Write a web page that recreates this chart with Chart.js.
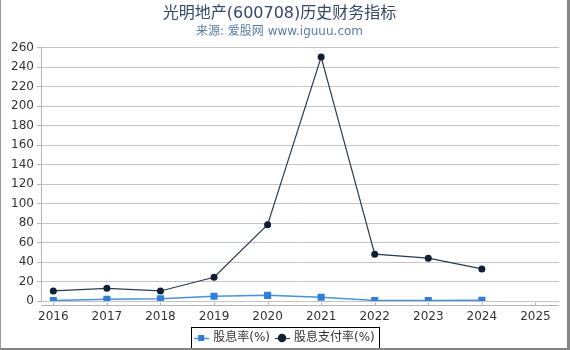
<!DOCTYPE html>
<html>
<head>
<meta charset="utf-8">
<script src="https://cdn.jsdelivr.net/npm/chart.js@4"></script>
<style>
  html, body { margin: 0; padding: 0; background: #fff; }
  #wrap { position: relative; width: 570px; height: 350px; }
  #frame {
    position: absolute; left: 0; top: 0; right: 0; bottom: 0;
    border-left: 1px solid #999; border-right: 3px solid #858585; border-bottom: 2px solid #858585;
    pointer-events: none;
  }
</style>
</head>
<body>
<div id="wrap">
  <canvas id="ChartCanvas" width="570" height="350"></canvas>
  <div id="frame"></div>
</div>
<script>
const years = [2016, 2017, 2018, 2019, 2020, 2021, 2022, 2023, 2024];
const axisYears = [2016, 2017, 2018, 2019, 2020, 2021, 2022, 2023, 2024, 2025];
const yieldRate = [0.5, 1.7, 2.3, 4.8, 5.8, 3.8, 0.6, 0.6, 0.7];
const payoutRate = [10.3, 13, 10.3, 24.4, 78.2, 250.3, 48, 43.9, 32.9];
const yTicks = [0, 20, 40, 60, 80, 100, 120, 140, 160, 180, 200, 220, 240, 260];

const FONT = "'DejaVu Sans', 'Noto Sans CJK SC', sans-serif";

/**
 * Moves the legend a bit (the reference centres it on the whole picture, lower down),
 * draws the x axis line a few pixels under the plot, the legend border
 * and the short line through each legend marker.
 * Hit boxes are rebuilt by the legend after layout, so only the box itself is moved here.
 */
const axisAndLegend = {
  id: 'axisAndLegend',
  afterLayout: chart => {
    const legend = chart.legend;
    legend.right += 11;
    legend.width += 11;
    legend.top += 4;
    legend.bottom += 4;
  },
  beforeDraw: chart => {
    const ctx = chart.ctx;
    const legend = chart.legend;
    if (!legend || !legend.legendHitBoxes) return;
    const colors = ['#4a8fe0', '#2a3a50'];
    ctx.save();
    legend.legendHitBoxes.forEach((box, i) => {
      const y = Math.round(box.top + 6) + 0.5;
      ctx.beginPath();
      ctx.moveTo(box.left - 1, y);
      ctx.lineTo(box.left + 14, y);
      ctx.lineWidth = i === 0 ? 1.5 : 1;
      ctx.strokeStyle = colors[i];
      ctx.stroke();
    });
    ctx.restore();
  },
  afterDraw: chart => {
    const ctx = chart.ctx;
    const area = chart.chartArea;
    const xScale = chart.scales.x;
    ctx.save();
    ctx.strokeStyle = '#b4b4b4';
    ctx.lineWidth = 1;
    const y = Math.round(area.bottom + 4) + 0.5;
    ctx.beginPath();
    ctx.moveTo(area.left, y);
    ctx.lineTo(area.right, y);
    axisYears.forEach(v => {
      const x = Math.round(xScale.getPixelForValue(v)) + 0.5;
      ctx.moveTo(x, y);
      ctx.lineTo(x, y - 3);
    });
    ctx.stroke();

    const boxes = chart.legend.legendHitBoxes;
    if (boxes && boxes.length) {
      const first = boxes[0];
      const last = boxes[boxes.length - 1];
      const left = Math.round(first.left - 4) + 0.5;
      const right = Math.round(last.left + last.width + 4) + 0.5;
      const top = Math.round(first.top - 5) + 0.5;
      const bottom = Math.round(first.top + first.height + 4) + 0.5;
      ctx.strokeStyle = '#000';
      ctx.strokeRect(left, top, right - left, bottom - top);
    }
    ctx.restore();
  }
};

const chart = new Chart(document.getElementById('ChartCanvas'), {
  type: 'line',
  data: {
    datasets: [{
      label: '股息率(%)',
      data: years.map((x, i) => ({x: x, y: yieldRate[i]})),
      borderColor: '#4a8fe0',
      backgroundColor: '#2f7ed8',
      borderWidth: 1.5,
      pointStyle: 'rect',
      pointRadius: 5,
      pointBorderWidth: 0,
      clip: {left: 10, top: 10, right: 10, bottom: 0},
    }, {
      label: '股息支付率(%)',
      data: years.map((x, i) => ({x: x, y: payoutRate[i]})),
      borderColor: '#2a3a50',
      backgroundColor: '#0f1f35',
      borderWidth: 1.2,
      pointStyle: 'circle',
      pointRadius: 3.5,
      pointBorderWidth: 0,
      clip: {left: 10, top: 10, right: 10, bottom: 0},
    }]
  },
  options: {
    animation: false,
    responsive: false,
    layout: { padding: { left: 0, right: 11, top: 0, bottom: 0 } },
    scales: {
      x: {
        type: 'linear',
        min: 2015.77,
        max: 2025.44,
        afterBuildTicks: scale => { scale.ticks = axisYears.map(v => ({value: v})); },
        afterFit: scale => { scale.height = 21; },
        border: { display: false },
        grid: { display: false, drawTicks: false },
        ticks: {
          padding: 9,
          autoSkip: false,
          maxRotation: 0,
          color: '#333',
          font: { family: FONT, size: 12 },
          callback: v => String(v),
        }
      },
      y: {
        min: 0,
        max: 260,
        afterBuildTicks: scale => { scale.ticks = yTicks.map(v => ({value: v})); },
        afterFit: scale => { scale.width = 41; },
        border: { display: true, color: '#b4b4b4' },
        grid: { color: '#c4c4c4', tickLength: 4, tickColor: '#b4b4b4' },
        ticks: {
          padding: 3,
          color: '#333',
          font: { family: FONT, size: 12 },
        }
      }
    },
    plugins: {
      title: {
        display: true,
        text: '光明地产(600708)历史财务指标',
        color: '#34496a',
        font: { family: FONT, size: 16, weight: 'normal' },
        padding: { top: 4, bottom: 0 },
      },
      subtitle: {
        display: true,
        text: '来源: 爱股网 www.iguuu.com',
        color: '#5b7ca6',
        font: { family: FONT, size: 12, weight: 'normal' },
        padding: { top: 1, bottom: 9 },
      },
      legend: {
        position: 'bottom',
        labels: {
          usePointStyle: true,
          boxWidth: 12,
          boxHeight: 6,
          padding: 6,
          color: '#333',
          font: { family: FONT, size: 12 },
        }
      },
      tooltip: { enabled: false },
    }
  },
  plugins: [axisAndLegend],
});
</script>
</body>
</html>
